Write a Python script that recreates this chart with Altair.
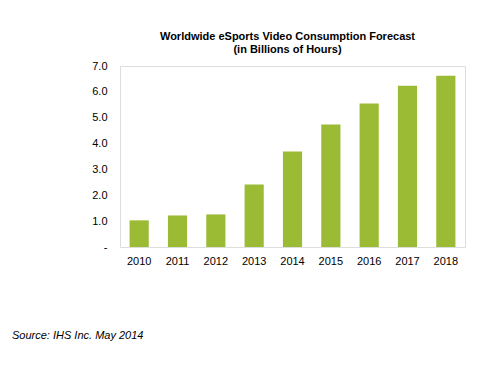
import altair as alt
import pandas as pd

years = ["2010", "2011", "2012", "2013", "2014", "2015", "2016", "2017", "2018"]
hours = [1.03, 1.22, 1.26, 2.42, 3.69, 4.74, 5.55, 6.24, 6.62]
title_lines = ["Worldwide eSports Video Consumption Forecast", "(in Billions of Hours)"]
source = ["Source: IHS Inc. May 2014"]

df = pd.DataFrame({"year": years, "hours": hours})
FONT = "Liberation Sans"

bars = alt.Chart(df).mark_bar(color="#9BBB35").encode(
    x=alt.X("year:O", title=None,
            scale=alt.Scale(paddingInner=0.5, paddingOuter=0.25),
            axis=alt.Axis(labelAngle=0, ticks=False, domain=False, labelPadding=8,
                          labelFont=FONT, labelFontSize=11, labelColor="#000000")),
    y=alt.Y("hours:Q", title=None,
            scale=alt.Scale(domain=[0, 7]),
            axis=alt.Axis(values=[0, 1, 2, 3, 4, 5, 6, 7], ticks=False, domain=False, grid=False,
                          labelPadding=13, labelFont=FONT, labelFontSize=11, labelColor="#000000",
                          labelExpr="datum.value == 0 ? '-' : format(datum.value, '.1f')")),
)

src = alt.Chart(pd.DataFrame({"t": source})).mark_text(
    align="left", baseline="middle", font=FONT, fontSize=11, fontStyle="italic", color="#000000"
).encode(text="t:N", x=alt.value(-108), y=alt.value(270))

chart = alt.layer(bars, src).properties(
    width=345, height=181,
    padding={"left": 112, "top": 58, "right": 20, "bottom": 110},
    autosize=alt.AutoSizeParams(type="none"),
    title=alt.TitleParams(title_lines, font=FONT, fontSize=11, fontWeight="bold",
                          color="#000000", anchor="middle", frame="group", offset=5,
                          dx=-5, lineHeight=13),
).configure_view(stroke="#888888", strokeWidth=1).configure(background="white")

chart.save("out.html", embed_options={"renderer": "svg", "actions": False})
